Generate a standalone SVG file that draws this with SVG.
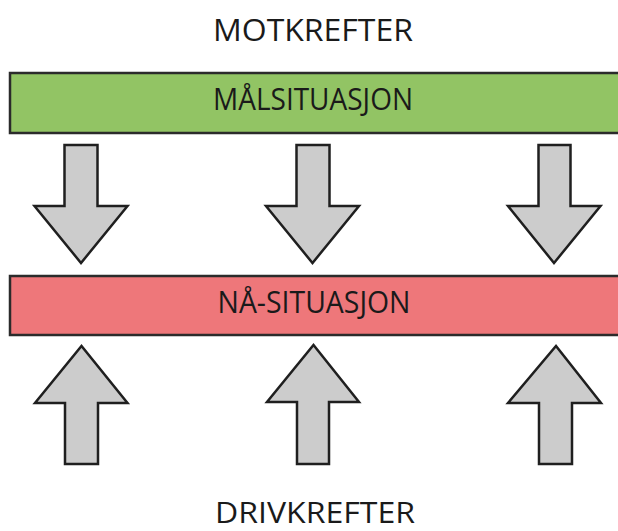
<svg xmlns="http://www.w3.org/2000/svg" width="618" height="531" viewBox="0 0 618 531">
<style>
.t{font-family:"Open Sans","Liberation Sans",Arial,sans-serif;font-size:31px;fill:#1a1a1a;text-anchor:middle}
.bar{stroke:#2b2b2b;stroke-width:2.5}
.arr{fill:#cccccc;stroke:#1f1f1f;stroke-width:2.5;stroke-linejoin:miter}
</style>
<rect width="618" height="531" fill="#fff"/>
<g id="motkrefter"><text class="t" x="313" y="41" textLength="200" lengthAdjust="spacingAndGlyphs">MOTKREFTER</text></g>
<g id="malsituasjon">
<rect class="bar" x="10" y="73" width="620" height="60" fill="#92c464"/>
<text class="t" x="313" y="110" textLength="200" lengthAdjust="spacingAndGlyphs">MÅLSITUASJON</text>
</g>
<g id="nasituasjon">
<rect class="bar" x="10" y="276" width="620" height="59" fill="#ee777a"/>
<text class="t" x="314" y="313" textLength="193" lengthAdjust="spacingAndGlyphs">NÅ-SITUASJON</text>
</g>
<g id="drivkrefter"><text class="t" x="315" y="523" style="font-size:30px" textLength="200" lengthAdjust="spacingAndGlyphs">DRIVKREFTER</text></g>
<g id="connectors">
<polygon class="arr" points="64.5,145 97.5,145 97.5,206 127.5,206 81,263 34.5,206 64.5,206"/>
<polygon class="arr" points="296.5,145 329.5,145 329.5,206 359,206 312.5,263 266,206 296.5,206"/>
<polygon class="arr" points="538.5,145 570.5,145 570.5,206 600.5,206 554,263 508,206 538.5,206"/>
<polygon class="arr" points="65,464 98,464 98,403 127.5,403 81.5,346 35,403 65,403"/>
<polygon class="arr" points="297,464 329,464 329,402 359,402 313.5,345 267,402 297,402"/>
<polygon class="arr" points="539,464 572,464 572,403 601,403 556,346 508,403 539,403"/>
</g>
</svg>
